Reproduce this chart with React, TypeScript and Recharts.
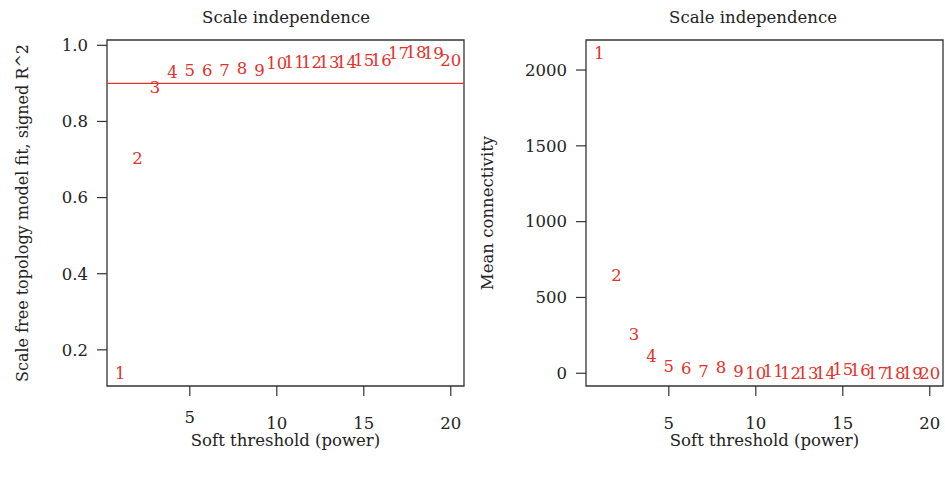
import React from 'react'
import {
  ScatterChart,
  Scatter,
  XAxis,
  YAxis,
  ReferenceLine,
  ReferenceArea,
} from 'recharts'

// soft-threshold powers tested
const powers = [1, 2, 3, 4, 5, 6, 7, 8, 9, 10, 11, 12, 13, 14, 15, 16, 17, 18, 19, 20]
// scale free topology fit, signed R^2
const sftR2 = [0.14, 0.703, 0.891, 0.931, 0.935, 0.935, 0.935, 0.94, 0.935, 0.953, 0.957, 0.957, 0.957, 0.957, 0.961, 0.961, 0.979, 0.983, 0.979, 0.96]
// mean connectivity
const meanK = [2110, 649, 259, 114, 48, 37, 17, 38, 17, 4, 15, 2, 2, 3, 25, 18, 2, 2, 2, 2]

const xTicks = [5, 10, 15, 20]
const r2Ticks = [0.2, 0.4, 0.6, 0.8, 1.0]
const kTicks = [0, 500, 1000, 1500, 2000]

const FONT = 'DejaVu Serif'
const RED = '#e4312a'
const INK = '#222'
const BOX = '#333'

const r2Data = powers.map((p, i) => ({ power: p, value: sftR2[i] }))
const kData = powers.map((p, i) => ({ power: p, value: meanK[i] }))

const xDomain: [number, number] = [0.24, 20.76]
const r2Domain: [number, number] = [0.105, 1.014]
const kDomain: [number, number] = [-84, 2198]

const tickStyle = { fill: INK, fontSize: 16.5, fontFamily: FONT }

const PowerLabel = (props: any) => {
  const { cx, cy, payload } = props
  return (
    <text x={cx} y={cy} dy="0.36em" textAnchor="middle" fill={RED} fontSize={16.5} fontFamily={FONT}>
      {payload.power}
    </text>
  )
}

// in the left panel the "5" sits a little higher than the others
const LeftXTick = (props: any) => {
  const { x, y, payload } = props
  return (
    <text x={x} y={y + (payload.value === 5 ? -6 : 0)} dy="0.71em" textAnchor="middle" {...tickStyle}>
      {payload.value}
    </text>
  )
}

const titleStyle: React.CSSProperties = {
  position: 'absolute',
  top: 8,
  lineHeight: '20px',
  fontFamily: FONT,
  fontSize: 16.5,
  color: INK,
  transform: 'translateX(-50%)',
  whiteSpace: 'nowrap',
}

export default function App() {
  return (
    <div style={{ position: 'absolute', left: 0, top: 0, width: 945, height: 482, background: '#fff' }}>
      <div style={{ position: 'absolute', left: 0, top: 0 }}>
        <ScatterChart width={470} height={482} margin={{ top: 40, right: 6, bottom: 0, left: 0 }}>
          <XAxis
            type="number"
            dataKey="power"
            domain={xDomain}
            ticks={xTicks}
            allowDataOverflow
            height={96}
            axisLine={false}
            tickLine={{ stroke: BOX, strokeWidth: 1.2 }}
            tickSize={10}
            tickMargin={21}
            tick={<LeftXTick />}
            label={{ value: 'Soft threshold (power)', position: 'insideBottom', offset: 36, fill: INK, fontSize: 16.5, fontFamily: FONT }}
          />
          <YAxis
            type="number"
            dataKey="value"
            domain={r2Domain}
            ticks={r2Ticks}
            allowDataOverflow
            width={107}
            axisLine={false}
            tickLine={{ stroke: BOX, strokeWidth: 1.2 }}
            tickSize={10}
            tickMargin={9}
            tick={tickStyle}
            tickFormatter={(v: number) => v.toFixed(1)}
            label={{
              value: 'Scale free topology model fit, signed R^2',
              angle: -90,
              position: 'insideLeft',
              offset: 22,
              fill: INK,
              fontSize: 16,
              fontFamily: FONT,
              style: { textAnchor: 'middle' },
            }}
          />
          <ReferenceArea x1={xDomain[0]} x2={xDomain[1]} y1={r2Domain[0]} y2={r2Domain[1]} fill="none" stroke={BOX} strokeWidth={1.3} />
          <ReferenceLine y={0.9} stroke={RED} strokeWidth={1.4} />
          <Scatter data={r2Data} shape={<PowerLabel />} isAnimationActive={false} />
        </ScatterChart>
      </div>
      <div style={{ position: 'absolute', left: 470, top: 0 }}>
        <ScatterChart width={475} height={482} margin={{ top: 40, right: 2, bottom: 0, left: 0 }}>
          <XAxis
            type="number"
            dataKey="power"
            domain={xDomain}
            ticks={xTicks}
            allowDataOverflow
            height={96}
            axisLine={false}
            tickLine={{ stroke: BOX, strokeWidth: 1.2 }}
            tickSize={10}
            tickMargin={21}
            tick={tickStyle}
            label={{ value: 'Soft threshold (power)', position: 'insideBottom', offset: 36, fill: INK, fontSize: 16.5, fontFamily: FONT }}
          />
          <YAxis
            type="number"
            dataKey="value"
            domain={kDomain}
            ticks={kTicks}
            allowDataOverflow
            width={116}
            axisLine={false}
            tickLine={{ stroke: BOX, strokeWidth: 1.2 }}
            tickSize={10}
            tickMargin={9}
            tick={tickStyle}
            label={{
              value: 'Mean connectivity',
              angle: -90,
              position: 'insideLeft',
              offset: 17,
              fill: INK,
              fontSize: 16.5,
              fontFamily: FONT,
              style: { textAnchor: 'middle' },
            }}
          />
          <ReferenceArea x1={xDomain[0]} x2={xDomain[1]} y1={kDomain[0]} y2={kDomain[1]} fill="none" stroke={BOX} strokeWidth={1.3} />
          <Scatter data={kData} shape={<PowerLabel />} isAnimationActive={false} />
        </ScatterChart>
      </div>
      <div style={{ ...titleStyle, left: 286 }}>Scale independence</div>
      <div style={{ ...titleStyle, left: 753 }}>Scale independence</div>
    </div>
  )
}
